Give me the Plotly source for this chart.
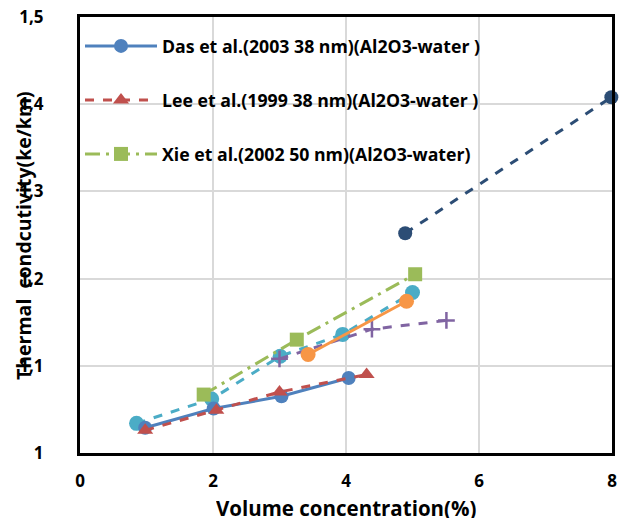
import plotly.graph_objects as go

das_x = [0.98, 2.01, 3.03, 4.04]
das_y = [1.029, 1.051, 1.065, 1.086]
lee_x = [0.98, 2.05, 3.0, 4.31]
lee_y = [1.026, 1.049, 1.070, 1.090]
xie_x = [1.86, 3.26, 5.04]
xie_y = [1.067, 1.130, 1.205]
cyan_x = [0.85, 1.98, 3.01, 3.95, 5.0]
cyan_y = [1.034, 1.062, 1.111, 1.136, 1.184]
orange_x = [3.43, 4.91]
orange_y = [1.113, 1.174]
purple_x = [3.0, 4.39, 5.51]
purple_y = [1.108, 1.142, 1.152]
navy_x = [4.89, 7.99]
navy_y = [1.252, 1.408]

x_ticks = [0, 2, 4, 6, 8]
y_ticks = [1.0, 1.1, 1.2, 1.3, 1.4, 1.5]
y_labels = ["1", "1,1", "1,2", "1,3", "1,4", "1,5"]

fig = go.Figure()
fig.add_trace(go.Scatter(x=cyan_x, y=cyan_y, mode="lines+markers", showlegend=False,
                         line=dict(color="#4BACC6", width=3, dash="dash"),
                         marker=dict(symbol="circle", size=15, color="#4BACC6"), cliponaxis=False))
fig.add_trace(go.Scatter(x=purple_x, y=purple_y, mode="lines+markers", showlegend=False,
                         line=dict(color="#8064A2", width=3, dash="dash"),
                         marker=dict(symbol="cross-thin", size=12, line=dict(color="#8064A2", width=2.5)), cliponaxis=False))
fig.add_trace(go.Scatter(x=das_x, y=das_y, mode="lines+markers", name="Das et al.(2003 38 nm)(Al2O3-water )",
                         legendgroup="a",
                         line=dict(color="#4F81BD", width=3),
                         marker=dict(symbol="circle", size=14, color="#4F81BD"), cliponaxis=False))
fig.add_trace(go.Scatter(x=lee_x, y=lee_y, mode="lines+markers", name="Lee et al.(1999 38 nm)(Al2O3-water )",
                         legendgroup="b",
                         line=dict(color="#C0504D", width=3, dash="dash"),
                         marker=dict(symbol="triangle-up", size=14, color="#C0504D"), cliponaxis=False))
fig.add_trace(go.Scatter(x=xie_x, y=xie_y, mode="lines+markers", name="Xie et al.(2002 50 nm)(Al2O3-water)",
                         legendgroup="c",
                         line=dict(color="#9BBB59", width=3, dash="longdashdot"),
                         marker=dict(symbol="square", size=14, color="#9BBB59"), cliponaxis=False))
fig.add_trace(go.Scatter(x=orange_x, y=orange_y, mode="lines+markers", showlegend=False,
                         line=dict(color="#F79646", width=3),
                         marker=dict(symbol="circle", size=15, color="#F79646"), cliponaxis=False))
fig.add_trace(go.Scatter(x=navy_x, y=navy_y, mode="lines+markers", showlegend=False,
                         line=dict(color="#2C4D75", width=3, dash="dash"),
                         marker=dict(symbol="circle", size=14, color="#2C4D75"), cliponaxis=False))

fig.update_layout(
    width=619, height=521,
    margin=dict(l=80, r=7, t=17, b=68),
    plot_bgcolor="white", paper_bgcolor="white",
    font=dict(family="Open Sans", color="black"),
    legend=dict(x=0.0, y=0.975, xanchor="left", yanchor="top", bgcolor="rgba(0,0,0,0)",
                font=dict(size=17.7, family="Open Sans", weight="bold"),
                tracegroupgap=28, itemwidth=72, traceorder="grouped"),
    xaxis=dict(range=[0, 8], tickvals=x_ticks, showgrid=True, gridcolor="#D9D9D9", gridwidth=1.5,
               showline=True, linecolor="black", linewidth=3, mirror=True, zeroline=False,
               ticks="outside", ticklen=11, tickcolor="rgba(0,0,0,0)", automargin=False,
               tickfont=dict(size=17, weight="bold")),
    yaxis=dict(range=[1, 1.5], tickvals=y_ticks, ticktext=y_labels, showgrid=True, gridcolor="#D9D9D9", gridwidth=1.5,
               showline=True, linecolor="black", linewidth=3, mirror=True, zeroline=False,
               ticks="outside", ticklen=30, tickcolor="rgba(0,0,0,0)", automargin=False,
               tickfont=dict(size=17, weight="bold")),
    annotations=[
        dict(text="Thermal  condcutivity(ke/km)", textangle=-90, showarrow=False,
             xref="paper", yref="paper", x=-0.105, y=0.498, xanchor="center", yanchor="middle",
             font=dict(size=19.5, weight="bold", family="Open Sans")),
        dict(text="Volume concentration(%)", showarrow=False, height=20, valign="middle",
             xref="paper", yref="paper", x=0.5, y=-0.125, xanchor="center", yanchor="middle",
             font=dict(size=20.5, weight="bold", family="Open Sans")),
    ],
)

fig.write_html("out.html")
